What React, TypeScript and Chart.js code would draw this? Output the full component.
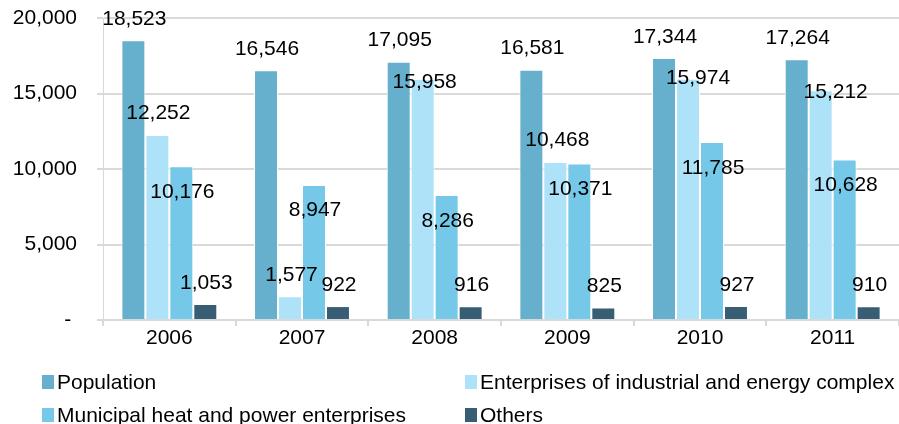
import React, { useEffect, useRef } from 'react';
import { Chart, registerables } from 'chart.js';

Chart.register(...registerables);

const years = ['2006', '2007', '2008', '2009', '2010', '2011'];
const population = [18523, 16546, 17095, 16581, 17344, 17264];
const enterprises = [12252, 1577, 15958, 10468, 15974, 15212];
const municipal = [10176, 8947, 8286, 10371, 11785, 10628];
const others = [1053, 922, 916, 825, 927, 910];
const seriesNames = [
  'Population',
  'Enterprises of industrial and energy complex',
  'Municipal heat and power enterprises',
  'Others',
];
const seriesColors = ['#66AFCD', '#ADE2F8', '#75C8E7', '#375E75'];
const yMax = 20000;
const yStep = 5000;

// value-label nudges relative to the top centre of each bar (pixels)
const labelDx = [
  [1, 1, 1, 1, 1, 1],
  [1, 1.5, 2, 2, 10, 15],
  [1, 1, 1, 1, 1, 1],
  [1, 1, 1, 1, 1, 1],
];
const labelDy = [
  [-23, -23, -23, -23, -23, -23],
  [-23, -23, 1, -23, -2, 0],
  [24, 24, 25, 24, 24, 24],
  [-23, -23, -23, -23, -23, -23],
];

const FONT = '"Liberation Sans", Arial, sans-serif';
const FS = 21;

const fmt = (v: number) => v.toLocaleString('en-US');

const valueLabels = {
  id: 'valueLabels',
  afterDatasetsDraw(chart: any) {
    const ctx = chart.ctx;
    ctx.save();
    ctx.font = `${FS}px ${FONT}`;
    ctx.fillStyle = '#000';
    ctx.textAlign = 'center';
    ctx.textBaseline = 'alphabetic';
    chart.data.datasets.forEach((ds: any, di: number) => {
      const meta = chart.getDatasetMeta(di);
      meta.data.forEach((el: any, i: number) => {
        const x = el.x + labelDx[di][i];
        const cy = el.y + labelDy[di][i];
        ctx.fillText(fmt(ds.data[i]), x, cy + 7.5);
      });
    });
    ctx.restore();
  },
};

const gridLegend = {
  id: 'gridLegend',
  afterDraw(chart: any) {
    const ctx = chart.ctx;
    ctx.save();
    ctx.font = `${FS}px ${FONT}`;
    ctx.textAlign = 'left';
    ctx.textBaseline = 'alphabetic';
    const colX = [42, 465];
    const rowY = [375, 408];
    seriesNames.forEach((name, i) => {
      const col = i % 2;
      const row = Math.floor(i / 2);
      const bx = colX[col];
      const by = rowY[row];
      ctx.fillStyle = seriesColors[i];
      ctx.fillRect(bx, by, 12, 14);
      ctx.fillStyle = '#000';
      ctx.fillText(name, bx + 15, by + 14);
    });
    ctx.restore();
  },
};

export default function App() {
  const ref = useRef<HTMLCanvasElement | null>(null);

  useEffect(() => {
    if (!ref.current) return;
    const series = [population, enterprises, municipal, others];
    const chart = new Chart(ref.current, {
      type: 'bar',
      data: {
        labels: years,
        datasets: series.map((d, i) => ({
          label: seriesNames[i],
          data: d,
          backgroundColor: seriesColors[i],
          borderColor: '#ffffff',
          borderWidth: 1,
          categoryPercentage: 0.723,
          barPercentage: 1,
        })),
      },
      options: {
        animation: false,
        responsive: false,
        maintainAspectRatio: false,
        layout: { padding: { top: 18, right: 0, bottom: 74, left: 0 } },
        plugins: {
          legend: { display: false },
          tooltip: { enabled: false },
        },
        scales: {
          x: {
            grid: {
              display: true,
              drawOnChartArea: false,
              drawTicks: true,
              tickLength: 6,
              color: '#d9d9d9',
              lineWidth: 2,
              offset: true,
            },
            border: { display: true, color: '#d9d9d9', width: 2 },
            ticks: { color: '#000', font: { family: FONT, size: FS }, padding: 0, maxRotation: 0 },
            afterFit: (s: any) => {
              s.height = 30;
            },
          },
          y: {
            min: 0,
            max: yMax,
            ticks: {
              stepSize: yStep,
              padding: 20,
              color: '#000',
              font: { family: FONT, size: FS },
              callback: (v: any) => (Number(v) === 0 ? '- ' : fmt(Number(v))),
            },
            grid: { color: '#d9d9d9', lineWidth: 2, tickLength: 6 },
            border: { display: true, color: '#d9d9d9', width: 1 },
            afterFit: (s: any) => {
              s.width = 103;
              s.paddingTop = 10;
              s.paddingBottom = 0;
            },
          },
        },
      },
      plugins: [valueLabels, gridLegend],
    });
    return () => chart.destroy();
  }, []);

  return (
    <div style={{ position: 'absolute', left: 0, top: 0, width: 899, height: 424, background: '#fff' }}>
      <canvas ref={ref} width={899} height={424} style={{ width: 899, height: 424, display: 'block' }} />
    </div>
  );
}
